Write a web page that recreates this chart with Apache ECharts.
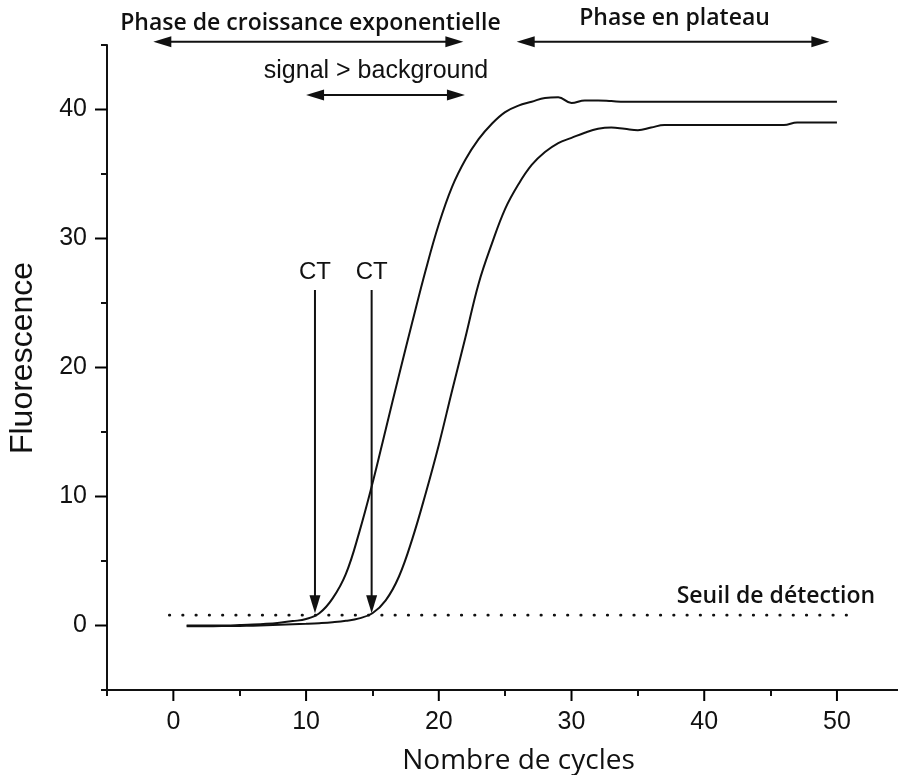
<!DOCTYPE html>
<html><head><meta charset="utf-8">
<script src="https://cdn.jsdelivr.net/npm/echarts@6/dist/echarts.min.js"></script>
<style>html,body{margin:0;padding:0;background:#fff}#c{width:898px;height:775px}</style>
</head><body><div id="c"></div>
<script>
// ---- data ----
const cycles = [1,2,3,4,5,6,7,8,9,10,11,12,13,14,15,16,17,18,19,20,21,22,23,24,25,26,27,28,29,30,31,32,33,34,35,36,37,38,39,40,41,42,43,44,45,46,47,48,49,50];
const fluoA = [0,0,0,0,0.03,0.07,0.13,0.22,0.34,0.5,0.95,2.1,4.0,7.2,11.0,15.2,19.4,23.5,27.5,31.1,34.0,36.1,37.7,38.9,39.8,40.3,40.6,40.9,40.95,40.5,40.7,40.7,40.65,40.6,40.6,40.6,40.6,40.6,40.6,40.6,40.6,40.6,40.6,40.6,40.6,40.6,40.6,40.6,40.6,40.6];
const fluoB = [-0.05,-0.05,-0.05,-0.04,-0.03,-0.01,0.02,0.05,0.09,0.13,0.18,0.25,0.36,0.55,0.95,1.95,3.8,6.7,10.2,14.0,18.2,22.3,26.5,29.6,32.3,34.2,35.7,36.7,37.4,37.8,38.2,38.5,38.6,38.5,38.4,38.6,38.8,38.8,38.8,38.8,38.8,38.8,38.8,38.8,38.8,38.8,39.0,39.0,39.0,39.0];
const xMajorTicks = [0,10,20,30,40,50];
const xMinorTicks = [-5,5,15,25,35,45];
const yMajorTicks = [0,10,20,30,40];
const yMinorTicks = [-5,5,15,25,35,45];
const thresholdValue = 0.8;
const thresholdSpan = [-0.3, 51.2];
const ctCycles = [10.67, 14.94];
const ctRange = [26.0, 0.95];
const ctLabel = 'CT';
const ctLabelValue = 27.35;
// annotation arrows: [fromCycle, toCycle, fluorescence]
const spanArrows = [[-1.51, 21.85, 45.26], [10.0, 21.97, 41.12], [25.87, 49.43, 45.26]];
// annotation texts: [text, cycle, fluorescence, kind]
const notes = [
  ['Phase de croissance exponentielle', 10.33, 46.65, 'fr'],
  ['signal > background', 15.27, 43.0, 'en'],
  ['Phase en plateau', 37.76, 47.04, 'fr'],
  ['Seuil de détection', 45.4, 2.26, 'fr']
];

// ---- chart ----
const INK = '#111';
const X_MIN = -5, X_MAX = 54.6, Y_MIN = -5, Y_MAX = 45;
const chart = echarts.init(document.getElementById('c'), null, {renderer:'canvas'});
const tickStyle = () => ({color: INK, width: 2});
const mkX = (extra) => Object.assign({type:'value', min:X_MIN, max:X_MAX, position:'bottom', splitLine:{show:false},
  axisLine:{show:false, onZero:false}, axisTick:{show:false}, axisLabel:{show:false}}, extra);
const mkY = (extra) => Object.assign({type:'value', min:Y_MIN, max:Y_MAX, position:'left', splitLine:{show:false},
  axisLine:{show:false, onZero:false}, axisTick:{show:false}, axisLabel:{show:false}}, extra);
const pts = (ys) => cycles.map((c, i) => [c, ys[i]]);
const gridBox = {left:107, right:0, top:45, bottom:85, containLabel:false, outerBoundsMode:'none'};

chart.setOption({
  animation: false,
  grid: [Object.assign({}, gridBox), Object.assign({}, gridBox)],
  xAxis: [
    mkX({
      gridIndex:0,
      name:'Nombre de cycles', nameLocation:'middle', nameGap:57,
      nameTextStyle:{fontFamily:'Open Sans', fontSize:28, color:INK, padding:[0,0,0,32]},
      axisLine:{show:true, onZero:false, lineStyle:{color:INK, width:2}},
      axisLabel:{show:true, customValues:xMajorTicks.slice(), margin:20, fontFamily:'Liberation Sans', fontSize:25, color:INK, backgroundColor:'transparent'}
    }),
    mkX({gridIndex:1, offset:0.01, axisTick:{show:true, customValues:xMinorTicks.slice(), length:6, lineStyle:tickStyle()}})
  ],
  yAxis: [
    mkY({
      gridIndex:0,
      name:'Fluorescence', nameLocation:'middle', nameGap:68,
      nameTextStyle:{fontFamily:'Liberation Sans', fontSize:32, color:INK, padding:[0,0,0,19]},
      axisLine:{show:true, onZero:false, lineStyle:{color:INK, width:2}},
      axisLabel:{show:true, customValues:yMajorTicks.slice(), margin:20, fontFamily:'Liberation Sans', fontSize:25, color:INK, backgroundColor:'transparent'}
    }),
    mkY({gridIndex:1, offset:0.01, axisTick:{show:true, customValues:yMinorTicks.slice(), length:6, lineStyle:tickStyle()}})
  ],
  series: [
    {type:'line', name:'A', xAxisIndex:0, yAxisIndex:0, data:pts(fluoA), symbol:'none', smooth:0.4,
      lineStyle:{color:INK, width:2}},
    {type:'line', name:'B', xAxisIndex:0, yAxisIndex:0, data:pts(fluoB), symbol:'none', smooth:0.4,
      lineStyle:{color:INK, width:2}},
    {type:'line', name:'Seuil', xAxisIndex:0, yAxisIndex:0,
      data:[[thresholdSpan[0], thresholdValue], [thresholdSpan[1], thresholdValue]], symbol:'none',
      lineStyle:{color:INK, width:2.8, type:[0.4, 12.87], cap:'round'}}
  ]
});

// annotations and major ticks positioned through the chart's own scales
const P = (x, y) => chart.convertToPixel({xAxisIndex:0, yAxisIndex:0}, [x, y]);
const HL = 18, HW = 5.5;
const g = [];
xMajorTicks.forEach(v => {
  const p = P(v, Y_MIN);
  g.push({type:'line', z:100, shape:{x1:p[0], y1:p[1], x2:p[0], y2:p[1]+11}, style:{stroke:'#000', lineWidth:2}});
});
yMajorTicks.forEach(v => {
  const p = P(X_MIN, v);
  g.push({type:'line', z:100, shape:{x1:p[0]-12, y1:p[1], x2:p[0], y2:p[1]}, style:{stroke:'#000', lineWidth:2}});
});
spanArrows.forEach(a => {
  const p1 = P(a[0], a[2]), p2 = P(a[1], a[2]);
  const y = p1[1];
  g.push({type:'line', shape:{x1:p1[0]+HL-2, y1:y, x2:p2[0]-HL+2, y2:y}, style:{stroke:INK, lineWidth:2}});
  g.push({type:'polygon', shape:{points:[[p1[0], y], [p1[0]+HL, y-HW], [p1[0]+HL, y+HW]]}, style:{fill:INK}});
  g.push({type:'polygon', shape:{points:[[p2[0], y], [p2[0]-HL, y-HW], [p2[0]-HL, y+HW]]}, style:{fill:INK}});
});
ctCycles.forEach(c => {
  const top = P(c, ctRange[0]), tip = P(c, ctRange[1]);
  const x = tip[0];
  g.push({type:'line', shape:{x1:x, y1:top[1], x2:x, y2:tip[1]-HL+2}, style:{stroke:INK, lineWidth:2}});
  g.push({type:'polygon', shape:{points:[[x, tip[1]], [x-HW, tip[1]-HL], [x+HW, tip[1]-HL]]}, style:{fill:INK}});
  const lp = P(c, ctLabelValue);
  g.push({type:'text', x:lp[0], y:lp[1], style:{text:ctLabel, fill:INK, fontFamily:'Liberation Sans', fontSize:24, align:'center', verticalAlign:'middle'}});
});
notes.forEach(n => {
  const p = P(n[1], n[2]);
  const fr = n[3] === 'fr';
  g.push({type:'text', x:p[0], y:p[1], style:{text:n[0], fill:INK,
    fontFamily: fr ? 'Open Sans' : 'Liberation Sans', fontSize: fr ? 23 : 25, fontWeight: fr ? 600 : 'normal',
    align:'center', verticalAlign:'middle'}});
});
chart.setOption({graphic: g});
</script>
</body></html>
